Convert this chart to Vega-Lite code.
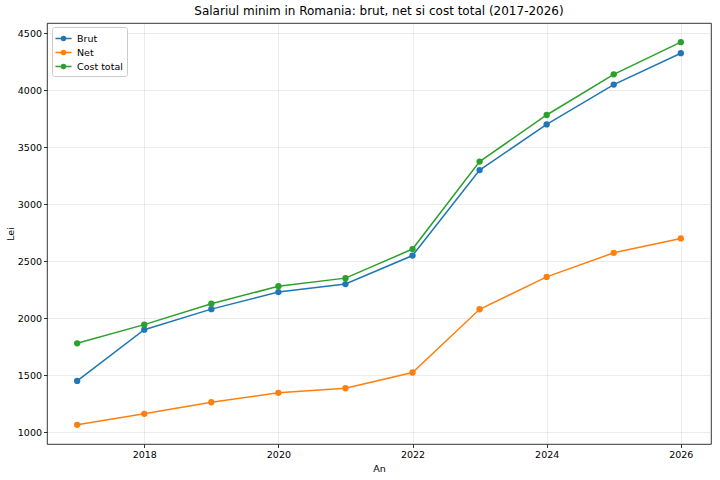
{
  "$schema": "https://vega.github.io/schema/vega-lite/v6.json",
  "width": 664,
  "height": 421,
  "autosize": {"type": "none"},
  "padding": {"left": 47, "top": 23, "right": 9, "bottom": 36},
  "background": "white",
  "title": {
    "text": "Salariul minim in Romania: brut, net si cost total (2017-2026)",
    "fontSize": 12,
    "fontWeight": "normal",
    "font": "DejaVu Sans",
    "color": "black",
    "anchor": "middle",
    "offset": 5
  },
  "config": {
    "font": "DejaVu Sans",
    "view": {"stroke": "black", "strokeWidth": 0.8},
    "axis": {
      "domain": false,
      "tickColor": "black",
      "tickSize": 3.5,
      "tickWidth": 0.8,
      "labelFontSize": 9.5,
      "labelColor": "black",
      "titleFontSize": 9.5,
      "titleFontWeight": "normal",
      "titleColor": "black",
      "gridColor": "#b0b0b0",
      "gridOpacity": 0.3,
      "gridWidth": 0.8
    }
  },
  "data": {
    "values": [
      {"an": 2017, "serie": "Brut", "lei": 1450},
      {"an": 2018, "serie": "Brut", "lei": 1900},
      {"an": 2019, "serie": "Brut", "lei": 2080},
      {"an": 2020, "serie": "Brut", "lei": 2230},
      {"an": 2021, "serie": "Brut", "lei": 2300},
      {"an": 2022, "serie": "Brut", "lei": 2550},
      {"an": 2023, "serie": "Brut", "lei": 3300},
      {"an": 2024, "serie": "Brut", "lei": 3700},
      {"an": 2025, "serie": "Brut", "lei": 4050},
      {"an": 2026, "serie": "Brut", "lei": 4325},
      {"an": 2017, "serie": "Net", "lei": 1065},
      {"an": 2018, "serie": "Net", "lei": 1162},
      {"an": 2019, "serie": "Net", "lei": 1263},
      {"an": 2020, "serie": "Net", "lei": 1346},
      {"an": 2021, "serie": "Net", "lei": 1386},
      {"an": 2022, "serie": "Net", "lei": 1524},
      {"an": 2023, "serie": "Net", "lei": 2079},
      {"an": 2024, "serie": "Net", "lei": 2363},
      {"an": 2025, "serie": "Net", "lei": 2574},
      {"an": 2026, "serie": "Net", "lei": 2700},
      {"an": 2017, "serie": "Cost total", "lei": 1780},
      {"an": 2018, "serie": "Cost total", "lei": 1944},
      {"an": 2019, "serie": "Cost total", "lei": 2127},
      {"an": 2020, "serie": "Cost total", "lei": 2281},
      {"an": 2021, "serie": "Cost total", "lei": 2352},
      {"an": 2022, "serie": "Cost total", "lei": 2607},
      {"an": 2023, "serie": "Cost total", "lei": 3374},
      {"an": 2024, "serie": "Cost total", "lei": 3783},
      {"an": 2025, "serie": "Cost total", "lei": 4140},
      {"an": 2026, "serie": "Cost total", "lei": 4422}
    ]
  },
  "encoding": {
    "x": {
      "field": "an",
      "type": "quantitative",
      "title": "An",
      "scale": {"domain": [2016.55, 2026.45], "nice": false, "zero": false},
      "axis": {"values": [2018, 2020, 2022, 2024, 2026], "format": "d", "titlePadding": 4}
    },
    "y": {
      "field": "lei",
      "type": "quantitative",
      "title": "Lei",
      "scale": {"domain": [897, 4590], "nice": false, "zero": false},
      "axis": {"values": [1000, 1500, 2000, 2500, 3000, 3500, 4000, 4500], "format": "d", "titlePadding": 2}
    },
    "color": {
      "field": "serie",
      "type": "nominal",
      "title": null,
      "scale": {
        "domain": ["Brut", "Net", "Cost total"],
        "range": ["#1f77b4", "#ff7f0e", "#2ca02c"]
      },
      "legend": {
        "orient": "none",
        "legendX": 5,
        "legendY": 4,
        "symbolType": "M -1.2 0 L 1.2 0 M 0.3 0 A 0.3 0.3 0 1 1 -0.3 0 A 0.3 0.3 0 1 1 0.3 0 Z",
        "symbolSize": 180,
        "symbolStrokeWidth": 1.5,
        "labelFontSize": 9.5,
        "labelColor": "black",
        "labelOffset": 6,
        "rowPadding": 1,
        "padding": 4,
        "strokeColor": "#cccccc",
        "fillColor": "white",
        "cornerRadius": 2
      }
    }
  },
  "layer": [
    {"mark": {"type": "line", "strokeWidth": 1.5}},
    {"mark": {"type": "point", "filled": true, "size": 40, "opacity": 1}}
  ]
}
